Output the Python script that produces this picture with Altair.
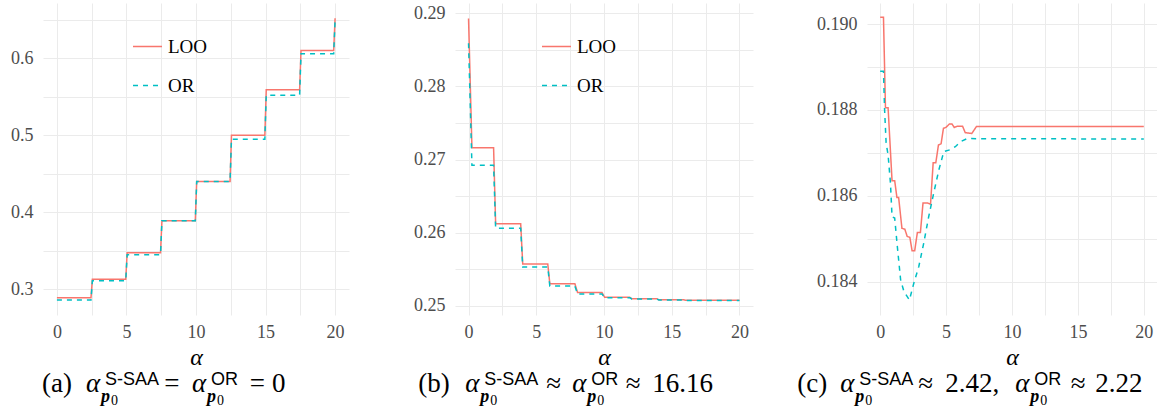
import altair as alt
import pandas as pd

SERIES = ["LOO", "OR"]
LINE_COLORS = ["#F8766D", "#00BFC4"]
LINE_DASHES = [[1, 0], [5, 5]]

# (a) step-shaped curves
A_ALPHA = [0, 2.45, 2.55, 4.95, 5.05, 7.45, 7.55, 9.95, 10.05, 12.45, 12.55,
           14.95, 15.05, 17.45, 17.55, 19.9, 20]
A_LOO = [0.289, 0.289, 0.313, 0.313, 0.3475, 0.3475, 0.389, 0.389, 0.440, 0.440,
         0.500, 0.500, 0.559, 0.559, 0.610, 0.610, 0.652]
A_OR = [0.286, 0.286, 0.311, 0.311, 0.345, 0.345, 0.389, 0.389, 0.440, 0.440,
        0.495, 0.495, 0.552, 0.552, 0.606, 0.606, 0.650]

# (b) decreasing staircase
B_ALPHA = [0, 0.25, 1.85, 2.0, 3.85, 4.0, 5.85, 6.0, 7.85, 8.05, 9.85, 10.05,
           11.9, 12.05, 13.9, 14.05, 15.9, 16.05, 20]
B_LOO = [0.2893, 0.2716, 0.2716, 0.2612, 0.2612, 0.2557, 0.2557, 0.2530, 0.2530,
         0.2518, 0.2518, 0.25115, 0.25115, 0.25096, 0.25096, 0.25080, 0.25080,
         0.25074, 0.25074]
B_OR = [0.2859, 0.2692, 0.2692, 0.2606, 0.2606, 0.2553, 0.2553, 0.2527, 0.2527,
        0.2516, 0.2516, 0.2511, 0.2511, 0.25092, 0.25092, 0.25078, 0.25078,
        0.25072, 0.25072]

# (c) curves with an interior minimum
C_ALPHA_LOO = [0, 0.25, 0.4, 0.6, 0.9, 1.1, 1.27, 1.4, 1.65, 1.87, 2.05, 2.25,
               2.42, 2.62, 2.82, 3.05, 3.25, 3.6, 3.82, 4.02, 4.22, 4.42, 4.62,
               4.8, 4.98, 5.25, 5.45, 5.62, 5.85, 6.25, 6.45, 6.95, 7.3, 20]
C_LOO = [0.19016, 0.19016, 0.18805, 0.18805, 0.18635, 0.18635, 0.18596, 0.18596,
         0.18524, 0.18522, 0.18505, 0.18503, 0.18472, 0.18472, 0.18514, 0.18514,
         0.18583, 0.18583, 0.18580, 0.18677, 0.18677, 0.18718, 0.18721, 0.18757,
         0.18759, 0.18767, 0.18767, 0.18759, 0.18762, 0.18762, 0.18747, 0.18745,
         0.18761, 0.18761]
C_ALPHA_OR = [0, 0.25, 0.33, 0.45, 0.6, 0.78, 0.9, 1.1, 1.3, 1.55, 1.8, 2.22,
              2.55, 2.93, 3.3, 3.68, 4.06, 4.45, 4.83, 5.3, 5.7, 6.1, 6.6, 20]
C_OR = [0.18890, 0.18890, 0.18804, 0.18723, 0.18695, 0.18629, 0.18551, 0.18548,
        0.18482, 0.18404, 0.18377, 0.18357, 0.18396, 0.18435, 0.18489, 0.18551,
        0.18606, 0.18660, 0.18703, 0.18707, 0.18714, 0.18726, 0.18733, 0.18732]

X_DOMAIN = [-1, 21]
X_GRID = [0, 2.5, 5, 7.5, 10, 12.5, 15, 17.5, 20]
A_Y_GRID = [0.30, 0.35, 0.40, 0.45, 0.50, 0.55, 0.60, 0.65]
B_Y_GRID = [0.250, 0.255, 0.260, 0.265, 0.270, 0.275, 0.280, 0.285, 0.290]
C_Y_GRID = [0.184, 0.185, 0.186, 0.187, 0.188, 0.189, 0.190]
A_Y_DOMAIN = [0.2666, 0.6718]
B_Y_DOMAIN = [0.24873, 0.29141]
C_Y_DOMAIN = [0.18322, 0.19049]

SERIF = "Liberation Serif, serif"
SANS = "Liberation Sans, sans-serif"
GRID = "#EBEBEB"
TICK_GREY = "#4D4D4D"
PLOT_TOP = 3

# caption piece styles: font, size, style, weight, baseline y (page px)
STYLES = {
    "main": (SERIF, 27, "normal", "normal", 392),
    "var": (SERIF, 27, "italic", "normal", 392),
    "sup": (SANS, 18, "normal", "normal", 385),
    "subp": (SERIF, 18, "italic", "bold", 402),
    "sub0": (SERIF, 14, "normal", "normal", 405),
}


def alpha_with_index(a, kind="or"):
    return [("α", a, "var", "left"),
            ("S-SAA" if kind == "ssaa" else "OR", a + 19, "sup", "left"),
            ("p", a + 15, "subp", "left"),
            ("0", a + 25, "sub0", "left")]


CAPTION_A = ([("(a)", 42, "main", "left")] + alpha_with_index(86, "ssaa")
             + [("=", 172, "main", "center")] + alpha_with_index(192)
             + [("=", 257.5, "main", "center"), ("0", 272, "main", "left")])
CAPTION_B = ([("(b)", 418, "main", "left")] + alpha_with_index(465, "ssaa")
             + [("≈", 553.5, "main", "center")] + alpha_with_index(572)
             + [("≈", 633, "main", "center"), ("16.16", 652, "main", "left")])
CAPTION_C = ([("(c)", 797, "main", "left")] + alpha_with_index(840, "ssaa")
             + [("≈", 925.5, "main", "center"), ("2.42,", 945, "main", "left")]
             + alpha_with_index(1015)
             + [("≈", 1078, "main", "center"), ("2.22", 1095, "main", "left")])


def long_frame(alpha_loo, loo, alpha_or, orv):
    rows = [{"alpha": a, "value": v, "series": "LOO"} for a, v in zip(alpha_loo, loo)]
    rows += [{"alpha": a, "value": v, "series": "OR"} for a, v in zip(alpha_or, orv)]
    return pd.DataFrame(rows)


def panel(df, width, left, y_domain, y_grid, y_label_expr, legend_x, caption):
    legend = alt.Legend(
        title=None, orient="none", legendX=legend_x, legendY=28, direction="vertical",
        symbolType="stroke", symbolSize=841, symbolStrokeWidth=1.5,
        labelFont=SERIF, labelFontSize=19, labelColor="black", labelOffset=5,
        rowPadding=13, padding=0,
    )
    x_axis = alt.Axis(
        values=X_GRID, labelExpr="datum.value % 5 == 0 ? datum.label : ''",
        title="α", grid=True, gridColor=GRID, gridWidth=1, domain=False, ticks=False,
        tickSize=0, labelFont=SERIF, labelFontSize=18, labelColor=TICK_GREY,
        labelPadding=8, labelFlush=False, labelOverlap=False,
        titleFont=SERIF, titleFontStyle="italic", titleFontSize=24,
        titleFontWeight="normal", titleColor="black", titlePadding=4,
    )
    y_axis = alt.Axis(
        values=y_grid, labelExpr=y_label_expr, title=None, grid=True, gridColor=GRID,
        gridWidth=1, domain=False, ticks=False, tickSize=0, labelFont=SERIF,
        labelFontSize=18, labelColor=TICK_GREY, labelPadding=10, labelFlush=False,
        labelOverlap=False,
    )
    lines = alt.Chart(df).mark_line(strokeWidth=1.5, clip=True).encode(
        x=alt.X("alpha:Q", scale=alt.Scale(domain=X_DOMAIN, nice=False, zero=False), axis=x_axis),
        y=alt.Y("value:Q", scale=alt.Scale(domain=y_domain, nice=False, zero=False), axis=y_axis),
        color=alt.Color("series:N", scale=alt.Scale(domain=SERIES, range=LINE_COLORS), legend=legend),
        strokeDash=alt.StrokeDash("series:N", scale=alt.Scale(domain=SERIES, range=LINE_DASHES), legend=legend),
        order=alt.Order("alpha:Q"),
    )
    layers = [lines]
    for text, xpos, role, align in caption:
        font, size, style, weight, base = STYLES[role]
        layers.append(
            alt.Chart(df).mark_text(
                text=text, font=font, fontSize=size, fontStyle=style, fontWeight=weight,
                align=align, baseline="alphabetic", color="black",
            ).encode(x=alt.value(xpos - left), y=alt.value(base - PLOT_TOP))
            .transform_filter("datum.alpha == 0 && datum.series == 'LOO'")
        )
    return alt.layer(*layers).properties(width=width, height=312)


df_a = long_frame(A_ALPHA, A_LOO, A_ALPHA, A_OR)
df_b = long_frame(B_ALPHA, B_LOO, B_ALPHA, B_OR)
df_c = long_frame(C_ALPHA_LOO, C_LOO, C_ALPHA_OR, C_OR)

pa = panel(df_a, 306, 43.1, A_Y_DOMAIN, A_Y_GRID,
           "abs(datum.value*10 - round(datum.value*10)) < 1e-6 ? format(datum.value, '.1f') : ''",
           89, CAPTION_A)
pb = panel(df_b, 298, 454.8, B_Y_DOMAIN, B_Y_GRID,
           "abs(datum.value*100 - round(datum.value*100)) < 1e-6 ? format(datum.value, '.2f') : ''",
           86, CAPTION_B)
pc = panel(df_c, 290, 866.8, C_Y_DOMAIN, C_Y_GRID,
           "abs(datum.value*500 - round(datum.value*500)) < 1e-6 ? format(datum.value, '.3f') : ''",
           82.5, CAPTION_C)

inner = alt.hconcat(pb, pc, spacing=44)
chart = alt.hconcat(pa, inner, spacing=64).properties(
    padding={"left": 10, "top": 3, "right": 0, "bottom": 0}
).configure_view(stroke=None).resolve_scale(color="independent", strokeDash="independent")

chart.save("out.html", embed_options={"renderer": "svg", "actions": False})
